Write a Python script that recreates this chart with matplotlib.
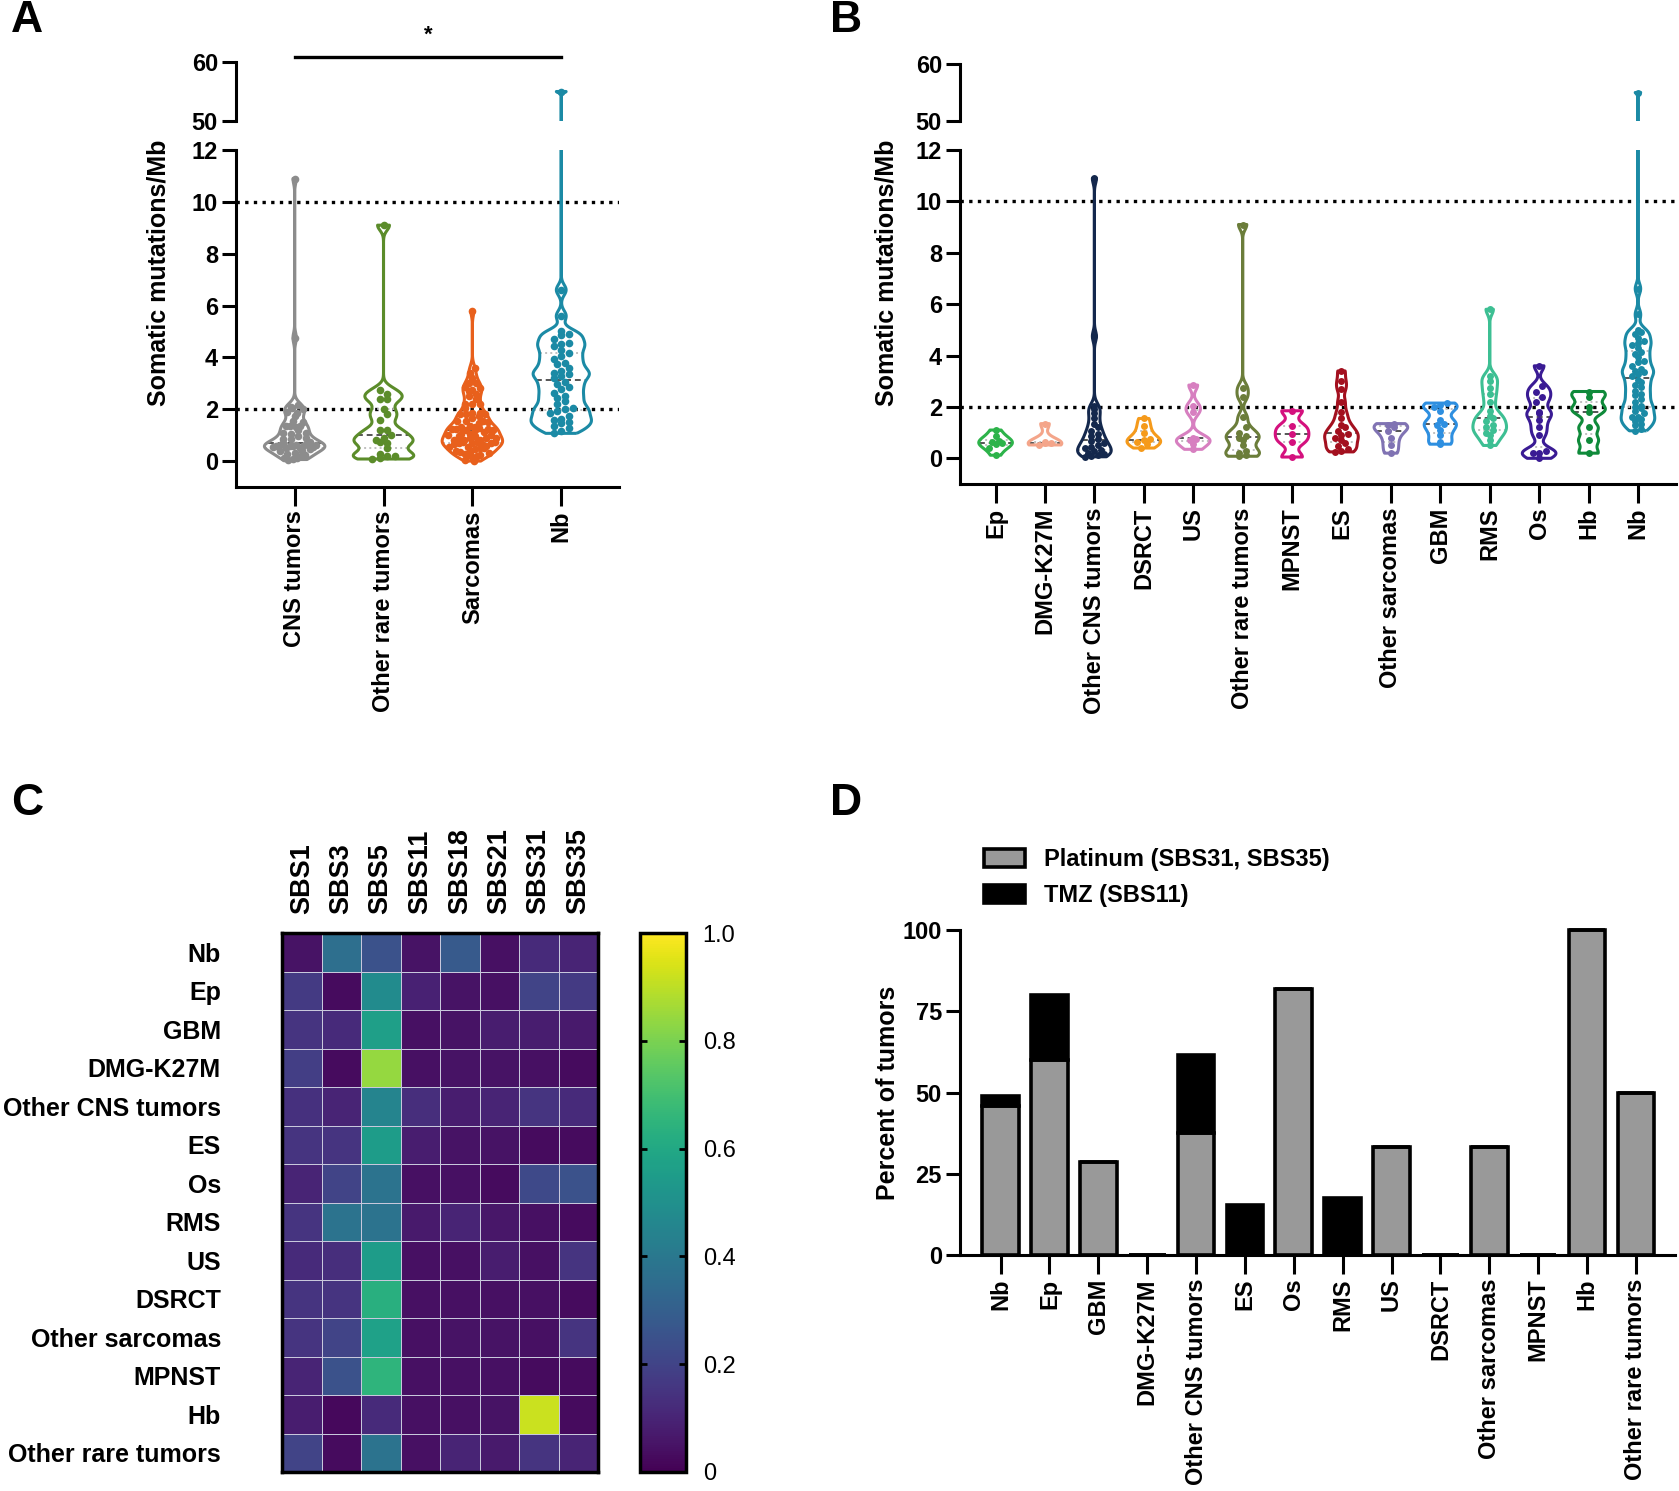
import matplotlib
matplotlib.use("Agg")
import matplotlib.pyplot as plt
import numpy as np
from matplotlib.patches import Patch

plt.rcParams["font.family"] = ["Liberation Sans", "DejaVu Sans"]
plt.rcParams["font.weight"] = "bold"
plt.rcParams["axes.labelweight"] = "bold"

W, H = 1679, 1491

# --- panel B groups (somatic mutations / Mb) ---
ep = [0.12, 0.40, 0.55, 0.60, 0.62, 0.68, 0.85, 1.10]
dmg = [0.52, 0.58, 0.60, 0.63, 1.35]
other_cns = [0.06, 0.08, 0.12, 0.18, 0.22, 0.28, 0.33, 0.40, 0.45, 0.52, 0.58, 0.66,
             0.75, 0.85, 0.95, 1.05, 1.20, 1.35, 1.55, 1.75, 1.90, 2.05, 4.75, 10.9]
dsrct = [0.40, 0.55, 0.65, 0.70, 0.75, 1.00, 1.25, 1.55]
us = [0.35, 0.55, 0.70, 0.75, 0.80, 1.80, 2.05, 2.85]
other_rare = [0.08, 0.12, 0.20, 0.28, 0.50, 0.72, 0.80, 0.88, 1.00, 1.20, 1.60, 2.40, 2.75, 9.10]
mpnst = [0.05, 0.65, 0.95, 1.25, 1.85]
es = [0.25, 0.28, 0.35, 0.48, 0.60, 0.70, 0.80, 0.90, 0.95, 1.05, 1.20, 1.30, 1.55,
      1.80, 2.20, 2.70, 3.00, 3.40]
other_sarc = [0.20, 0.50, 0.80, 1.05, 1.20, 1.28, 1.35]
gbm = [0.55, 0.62, 0.90, 1.10, 1.30, 1.35, 1.50, 1.85, 2.00, 2.08, 2.15]
rms = [0.50, 0.72, 0.90, 1.00, 1.12, 1.22, 1.30, 1.45, 1.55, 1.65, 1.85, 2.20, 2.50,
       2.75, 3.00, 3.20, 5.80]
os_ = [0.00, 0.20, 0.22, 0.30, 0.90, 1.20, 1.50, 1.75, 1.80, 2.20, 2.40, 2.60, 2.80, 3.60]
hb = [0.20, 0.70, 1.20, 1.80, 2.00, 2.40, 2.60]
nb = [1.07, 1.15, 1.28, 1.35, 1.45, 1.52, 1.60, 1.62, 1.75, 1.85, 1.95, 2.00, 2.05, 2.20,
      2.30, 2.45, 2.50, 2.62, 2.77, 2.85, 2.97, 3.05, 3.20, 3.30, 3.35, 3.40, 3.48, 3.60,
      3.74, 3.80, 3.95, 4.06, 4.15, 4.30, 4.42, 4.50, 4.55, 4.70, 4.85, 4.90, 5.00, 5.60,
      6.60, 55.0]

B_LABELS = ["Ep", "DMG-K27M", "Other CNS tumors", "DSRCT", "US", "Other rare tumors",
            "MPNST", "ES", "Other sarcomas", "GBM", "RMS", "Os", "Hb", "Nb"]
B_DATA = [ep, dmg, other_cns, dsrct, us, other_rare, mpnst, es, other_sarc, gbm, rms, os_, hb, nb]
B_COLORS = ["#2db34a", "#f4a58a", "#14284d", "#f59a1b", "#d77fc0", "#6b7d3a", "#d4117e",
            "#a3101f", "#8073b3", "#2e8fe0", "#3dbf93", "#3a1b94", "#0f8a3a", "#1b8aa5"]

# --- panel A groups, pooled from the subgroups ---
A_LABELS = ["CNS tumors", "Other rare tumors", "Sarcomas", "Nb"]
A_DATA = [ep + dmg + other_cns + gbm,
          other_rare + hb,
          dsrct + us + mpnst + es + other_sarc + rms + os_,
          nb]
A_COLORS = ["#8c8c8c", "#5b8c2a", "#e8601c", "#1b8aa5"]

# --- panel C: signature contributions ---
SIGS = ["SBS1", "SBS3", "SBS5", "SBS11", "SBS18", "SBS21", "SBS31", "SBS35"]
C_ROWS = ["Nb", "Ep", "GBM", "DMG-K27M", "Other CNS tumors", "ES", "Os", "RMS", "US",
          "DSRCT", "Other sarcomas", "MPNST", "Hb", "Other rare tumors"]
C_VALUES = np.array([
    [0.05, 0.36, 0.25, 0.05, 0.28, 0.04, 0.12, 0.10],
    [0.17, 0.03, 0.48, 0.09, 0.05, 0.04, 0.20, 0.17],
    [0.15, 0.12, 0.56, 0.04, 0.05, 0.08, 0.08, 0.07],
    [0.18, 0.03, 0.84, 0.04, 0.05, 0.05, 0.04, 0.03],
    [0.14, 0.10, 0.45, 0.13, 0.08, 0.10, 0.15, 0.12],
    [0.15, 0.15, 0.55, 0.08, 0.05, 0.05, 0.03, 0.03],
    [0.10, 0.20, 0.38, 0.04, 0.04, 0.03, 0.22, 0.25],
    [0.15, 0.38, 0.38, 0.07, 0.10, 0.06, 0.04, 0.03],
    [0.12, 0.13, 0.55, 0.04, 0.04, 0.08, 0.04, 0.15],
    [0.15, 0.15, 0.63, 0.04, 0.04, 0.04, 0.04, 0.03],
    [0.15, 0.20, 0.57, 0.04, 0.05, 0.05, 0.04, 0.15],
    [0.10, 0.25, 0.65, 0.04, 0.04, 0.04, 0.03, 0.03],
    [0.08, 0.02, 0.12, 0.04, 0.04, 0.05, 0.92, 0.03],
    [0.20, 0.03, 0.38, 0.04, 0.10, 0.07, 0.15, 0.10],
])

# --- panel D: percent of tumors with treatment signatures ---
D_LABELS = ["Nb", "Ep", "GBM", "DMG-K27M", "Other CNS tumors", "ES", "Os", "RMS", "US",
            "DSRCT", "Other sarcomas", "MPNST", "Hb", "Other rare tumors"]
platinum = [46, 60, 28.6, 0, 37.5, 0, 81.8, 0, 33.3, 0, 33.3, 0, 100, 50]
tmz = [3, 20, 0, 0, 24, 15.4, 0, 17.6, 0, 0, 0, 0, 0, 0]

FS = 17
LW = 2.2


def add_ax(fig, left, top, right, bottom):
    return fig.add_axes([left / W, 1 - bottom / H, (right - left) / W, (bottom - top) / H])


def kde_outline(vals, bw=0.2, n=1500):
    vals = np.asarray(vals, float)
    y = np.linspace(vals.min(), vals.max(), n)
    d = np.exp(-0.5 * ((y[:, None] - vals[None, :]) / bw) ** 2).sum(axis=1)
    return y, d / d.max()


def swarm_x(vals, pos, y, hw, dx, bin_h):
    # spread points sideways inside the violin, row by row
    vals = np.asarray(vals, float)
    xs = np.full(len(vals), float(pos))
    bins = np.floor(vals / bin_h).astype(int)
    for b in np.unique(bins):
        idx = np.where(bins == b)[0]
        k = len(idx)
        if k == 1:
            continue
        lim = 0.85 * np.interp(vals[idx], y, hw)
        step = min(dx, 2 * lim.min() / (k - 1)) if lim.min() > 0 else dx
        offs = (np.arange(k) - (k - 1) / 2) * step
        xs[idx] = pos + np.clip(offs, -lim, lim)
    return xs


def draw_violin(axes, pos, vals, color, width, dx, bin_h, ms):
    vals = np.asarray(vals, float)
    y, d = kde_outline(vals)
    hw = d * width / 2
    q1, med, q3 = np.percentile(vals, [25, 50, 75])
    xs = swarm_x(vals, pos, y, hw, dx, bin_h)
    for ax in axes:
        ax.fill_betweenx(y, pos - hw, pos + hw, facecolor="none", edgecolor=color,
                         lw=LW, zorder=3)
        for q, ls, c in ((q1, ":", "#c0c0c0"), (q3, ":", "#c0c0c0"), (med, (0, (3, 2)), "#555555")):
            w = np.interp(q, y, hw)
            ax.plot([pos - w, pos + w], [q, q], ls=ls, color=c, lw=1.4, zorder=2)
        ax.plot(xs, vals, "o", color=color, ms=ms, mec="none", zorder=4)


def style_axis(ax):
    for s in ["top", "right"]:
        ax.spines[s].set_visible(False)
    for s in ["left", "bottom"]:
        ax.spines[s].set_linewidth(LW)
    ax.tick_params(labelsize=FS, width=LW, length=10, pad=3)


def violin_panel(fig, x0, x1, top_axis, bot_axis, labels, data, colors, xlim, dx, bin_h, ms):
    ax_top = add_ax(fig, x0, top_axis[0], x1, top_axis[1])
    ax_bot = add_ax(fig, x0, bot_axis[0], x1, bot_axis[1])
    for ax in (ax_top, ax_bot):
        style_axis(ax)
        ax.set_xlim(*xlim)
        for yv in (2, 10):
            ax.axhline(yv, color="k", ls=(0, (1, 1.6)), lw=2.4, zorder=1)
    ax_top.spines["bottom"].set_visible(False)
    ax_top.set_xticks([])
    ax_top.set_ylim(50, 60)
    ax_top.set_yticks([50, 60])
    ax_bot.set_ylim(-1, 12)
    ax_bot.set_yticks(range(0, 13, 2))
    ax_bot.set_xticks(range(len(labels)))
    ax_bot.set_xticklabels(labels, rotation=90)
    ax_bot.tick_params(axis="x", length=14)
    for i, (vals, c) in enumerate(zip(data, colors)):
        draw_violin([ax_top, ax_bot], i, vals, c, 0.68, dx, bin_h, ms)
    return ax_top, ax_bot


fig = plt.figure(figsize=(W / 100, H / 100), dpi=100)

# Panel A
a_top, a_bot = violin_panel(fig, 236, 619, (62, 121), (150, 487), A_LABELS, A_DATA,
                            A_COLORS, (-0.66, 3.65), 0.085, 0.26, 5.5)
a_top.plot([0, 3], [60.9, 60.9], color="k", lw=2.4, clip_on=False)
a_top.text(1.5, 64.5, "*", ha="center", va="center", fontsize=16)
fig.text(158 / W, 1 - 273 / H, "Somatic mutations/Mb", rotation=90, ha="center",
         va="center", fontsize=18, fontweight="bold")

# Panel B
b_top, b_bot = violin_panel(fig, 960, 1676, (64, 121), (150, 484), B_LABELS, B_DATA,
                            B_COLORS, (-0.72, 13.77), 0.13, 0.2, 5)
fig.text(887 / W, 1 - 273 / H, "Somatic mutations/Mb", rotation=90, ha="center",
         va="center", fontsize=18, fontweight="bold")

# Panel C
ax_c = add_ax(fig, 282, 933, 598, 1472)
mesh = ax_c.pcolormesh(C_VALUES, cmap="viridis", vmin=0, vmax=1,
                       edgecolors="#c8c8dc", linewidth=0.7)
ax_c.set_ylim(len(C_ROWS), 0)
ax_c.set_xticks(np.arange(len(SIGS)) + 0.5)
ax_c.set_xticklabels(SIGS, rotation=90)
ax_c.set_yticks(np.arange(len(C_ROWS)) + 0.5)
ax_c.set_yticklabels(C_ROWS)
ax_c.xaxis.tick_top()
ax_c.tick_params(axis="x", length=0, pad=14, labelsize=19.5)
ax_c.tick_params(axis="y", length=0, pad=44, labelsize=18)
for s in ax_c.spines.values():
    s.set_linewidth(2.5)
cax = add_ax(fig, 640, 933, 686, 1472)
cb = fig.colorbar(mesh, cax=cax, ticks=[0, 0.2, 0.4, 0.6, 0.8, 1.0])
cb.ax.set_yticklabels(["0", "0.2", "0.4", "0.6", "0.8", "1.0"], fontweight="normal")
cb.ax.tick_params(labelsize=FS, width=2, length=5, pad=12, direction="in",
                  left=True, right=True)
cb.outline.set_linewidth(2.5)

# Panel D
ax_d = add_ax(fig, 960, 930, 1675, 1255)
xd = np.arange(len(D_LABELS))
ax_d.bar(xd, platinum, width=0.75, color="#999999", edgecolor="k", lw=2.6,
         clip_on=False, zorder=3)
ax_d.bar(xd, tmz, width=0.75, bottom=platinum, color="k", edgecolor="k", lw=2.6,
         clip_on=False, zorder=3)
style_axis(ax_d)
ax_d.set_xlim(-0.83, 13.8)
ax_d.set_ylim(0, 100)
ax_d.set_yticks([0, 25, 50, 75, 100])
ax_d.set_xticks(xd)
ax_d.set_xticklabels(D_LABELS, rotation=90)
ax_d.tick_params(axis="x", length=14)
ax_d.set_ylabel("Percent of tumors", fontsize=18, labelpad=2)
ax_d.legend(handles=[Patch(facecolor="#999999", edgecolor="k", lw=2.6, label="Platinum (SBS31, SBS35)"),
                     Patch(facecolor="k", edgecolor="k", lw=2.6, label="TMZ (SBS11)")],
            loc="upper left", bbox_to_anchor=(0.02, 1.28), frameon=False, fontsize=FS,
            handlelength=1.75, handleheight=0.8, handletextpad=0.8, labelspacing=0.55,
            borderaxespad=0)

# panel letters
for lab, x, y in (("A", 27, 21), ("B", 846, 21), ("C", 27, 803), ("D", 846, 803)):
    fig.text(x / W, 1 - y / H, lab, ha="center", va="center", fontsize=32, fontweight="bold")

fig.savefig("out.png", dpi=100)
